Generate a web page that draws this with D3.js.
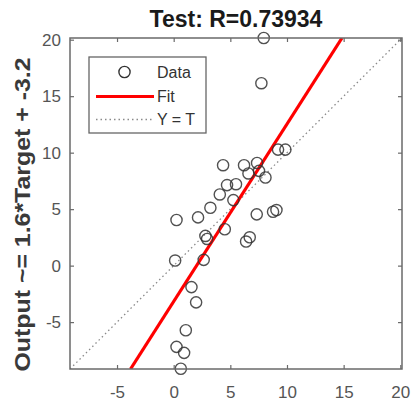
<!DOCTYPE html>
<html>
<head>
<meta charset="utf-8">
<script src="https://cdn.jsdelivr.net/npm/d3@7"></script>
<style>
  html, body { margin: 0; padding: 0; background: #fff; }
  svg { display: block; font-family: "Liberation Sans", Arial, sans-serif; }
</style>
</head>
<body>
<div id="chart"></div>
<script>
// ---- data ----
const targets = [7.95, 7.74, 9.21, 9.86, 4.36, 6.21, 7.36, 6.60, 7.53, 8.10,
                 4.71, 5.50, 4.07, 5.27, 3.24, 0.25, 2.15, 7.33, 8.77, 9.07,
                 4.51, 2.80, 2.95, 6.71, 6.39, 0.13, 2.65, 1.57, 1.98, 1.07,
                 0.25, 0.92, 0.63];
const outputs = [20.15, 16.15, 10.27, 10.27, 8.89, 8.89, 9.09, 8.16, 8.39, 7.80,
                 7.13, 7.21, 6.30, 5.80, 5.12, 4.04, 4.27, 4.54, 4.77, 4.92,
                 3.22, 2.63, 2.36, 2.51, 2.13, 0.45, 0.51, -1.90, -3.25, -5.72,
                 -7.19, -7.72, -9.13];
const axisLimits = [-9.15, 20.15];
const tickValues = [-5, 0, 5, 10, 15, 20];
const tickLabels = ["-5", "0", "5", "10", "15", "20"];
const fitSlope = 1.57;
const fitIntercept = -3.17;
const titleText = "Test: R=0.73934";
const yLabelText = "Output ~= 1.6*Target + -3.2";
const legendLabels = ["Data", "Fit", "Y = T"];

// ---- layout ----
const W = 411, H = 402;
const plot = { left: 70, right: 402, top: 38, bottom: 369 };

const svg = d3.select("#chart").append("svg")
  .attr("width", W).attr("height", H);

const x = d3.scaleLinear().domain(axisLimits).range([plot.left, plot.right]);
const y = d3.scaleLinear().domain(axisLimits).range([plot.bottom, plot.top]);
const fmt = d => tickLabels[tickValues.indexOf(d)];

const data = targets.map((t, i) => ({ t, o: outputs[i] }));

// clip
svg.append("clipPath").attr("id", "clip")
  .append("rect").attr("x", plot.left).attr("y", plot.top)
  .attr("width", plot.right - plot.left).attr("height", plot.bottom - plot.top);

const g = svg.append("g").attr("clip-path", "url(#clip)");

// Y = T dotted line
g.append("line")
  .attr("x1", x(axisLimits[0])).attr("y1", y(axisLimits[0]))
  .attr("x2", x(axisLimits[1])).attr("y2", y(axisLimits[1]))
  .attr("stroke", "#8a8a8a").attr("stroke-width", 1.3)
  .attr("stroke-dasharray", "1.5,3");

// fit line
const fitT0 = (axisLimits[0] - fitIntercept) / fitSlope;
const fitT1 = (axisLimits[1] - fitIntercept) / fitSlope;
g.append("line")
  .attr("x1", x(fitT0)).attr("y1", y(fitSlope * fitT0 + fitIntercept))
  .attr("x2", x(fitT1)).attr("y2", y(fitSlope * fitT1 + fitIntercept))
  .attr("stroke", "#ff0000").attr("stroke-width", 3.2);

// data circles
svg.append("g").selectAll("circle").data(data).join("circle")
  .attr("cx", d => x(d.t)).attr("cy", d => y(d.o))
  .attr("r", 5.6)
  .attr("fill", "none")
  .attr("stroke", "#333").attr("stroke-opacity", 0.85)
  .attr("stroke-width", 1.4);

// axes
const axisColor = "#6a6a6a";
function styleAxis(sel, showLabels) {
  sel.select(".domain").remove();
  sel.selectAll(".tick line").attr("stroke", axisColor).attr("stroke-width", 1.2);
  sel.selectAll(".tick text")
    .attr("fill", "#555").style("font-size", "17px")
    .style("display", showLabels ? null : "none");
}

svg.append("g").attr("transform", `translate(0,${plot.bottom})`)
  .call(d3.axisBottom(x).tickValues(tickValues).tickFormat(fmt).tickSizeInner(-4).tickSizeOuter(0).tickPadding(17))
  .call(s => styleAxis(s, true));
svg.append("g").attr("transform", `translate(0,${plot.top})`)
  .call(d3.axisTop(x).tickValues(tickValues).tickFormat(fmt).tickSizeInner(-4).tickSizeOuter(0))
  .call(s => styleAxis(s, false));
svg.append("g").attr("transform", `translate(${plot.left},0)`)
  .call(d3.axisLeft(y).tickValues(tickValues).tickFormat(fmt).tickSizeInner(-4).tickSizeOuter(0).tickPadding(9))
  .call(s => styleAxis(s, true));
svg.append("g").attr("transform", `translate(${plot.right},0)`)
  .call(d3.axisRight(y).tickValues(tickValues).tickFormat(fmt).tickSizeInner(-4).tickSizeOuter(0))
  .call(s => styleAxis(s, false));

// box
svg.append("rect")
  .attr("x", plot.left).attr("y", plot.top)
  .attr("width", plot.right - plot.left).attr("height", plot.bottom - plot.top)
  .attr("fill", "none").attr("stroke", axisColor).attr("stroke-width", 1.5);

// title
svg.append("text")
  .attr("x", (plot.left + plot.right) / 2).attr("y", 27)
  .attr("text-anchor", "middle")
  .style("font-size", "23px").style("font-weight", "bold")
  .attr("fill", "#1a1a1a")
  .text(titleText);

// y label
svg.append("text")
  .attr("transform", `translate(30,${(plot.top + plot.bottom) / 2 + 11}) rotate(-90)`)
  .attr("text-anchor", "middle")
  .style("font-size", "22px").style("font-weight", "bold")
  .attr("fill", "#3a3a3a")
  .attr("textLength", 314).attr("lengthAdjust", "spacingAndGlyphs")
  .text(yLabelText);

// legend
const lg = svg.append("g");
lg.append("rect")
  .attr("x", 89).attr("y", 57).attr("width", 117).attr("height", 76)
  .attr("fill", "#fff").attr("stroke", "#666").attr("stroke-width", 1.3);
const rowY = [72, 96.5, 119.5];
lg.append("circle").attr("cx", 124.5).attr("cy", rowY[0]).attr("r", 5.6)
  .attr("fill", "none").attr("stroke", "#333").attr("stroke-width", 1.4);
lg.append("line").attr("x1", 96).attr("x2", 154).attr("y1", rowY[1]).attr("y2", rowY[1])
  .attr("stroke", "#ff0000").attr("stroke-width", 3.2);
lg.append("line").attr("x1", 96).attr("x2", 154).attr("y1", rowY[2]).attr("y2", rowY[2])
  .attr("stroke", "#8a8a8a").attr("stroke-width", 1.3).attr("stroke-dasharray", "1.5,3");
lg.selectAll("text.lab").data(legendLabels).join("text")
  .attr("class", "lab")
  .attr("x", 157).attr("y", (d, i) => rowY[i])
  .attr("dy", "0.36em")
  .style("font-size", "16px").attr("fill", "#333")
  .text(d => d);
</script>
</body>
</html>
